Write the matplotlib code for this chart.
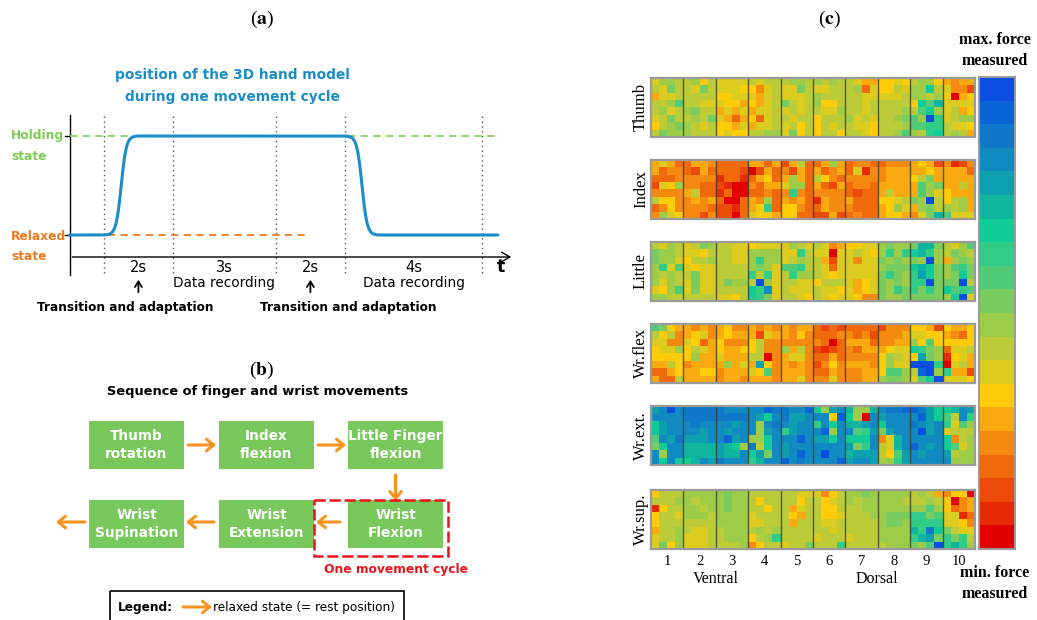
import numpy as np
import matplotlib
matplotlib.use("Agg")
import matplotlib.pyplot as plt
from matplotlib.colors import ListedColormap
from matplotlib.patches import Rectangle, FancyArrowPatch
import matplotlib.transforms as mtransforms

plt.rcParams["mathtext.fontset"] = "stix"

# ---------------- data ----------------
# (a) one movement cycle
phase_durations = [2, 3, 2, 4]               # seconds
phase_labels = ["2s", "3s", "2s", "4s"]
phase_notes = ["", "Data recording", "", "Data recording"]
transition_phases = [0, 2]                   # indices of "Transition and adaptation"
lead_in = 1.0                                # s before first phase
move_time = 1.0                              # s needed to reach the new state
holding_level, relaxed_level = 1.0, 0.0

# (b) movement sequence
movements = ["Thumb\nrotation", "Index\nflexion", "Little Finger\nflexion",
             "Wrist\nFlexion", "Wrist\nExtension", "Wrist\nSupination"]
grid_pos = [(0, 0), (1, 0), (2, 0), (2, 1), (1, 1), (0, 1)]

# (c) force maps, levels 0 (min, red) .. 19 (max, blue), base-20 digits
thumb = [
    "7998 8968 7777 8788 8998 9898 8755 6676 8996 5455",
    "87a8 87a8 7776 6478 77a8 7788 8937 6687 99d8 7442",
    "5778 8888 6677 7578 7778 9888 8877 7778 9989 6056",
    "889b 8877 7665 6578 a878 9668 8878 8888 6dbe 7777",
    "8978 9a88 5757 5778 7878 8779 8878 8889 8bd9 7856",
    "78a8 898a 7535 6378 8788 6888 9787 889a b9jc 7899",
    "689a 9878 6657 5778 7868 6878 8776 8889 bbcc 8776",
    "8a99 9888 6766 8899 7a68 6886 8876 889b 98cd 8985",
]
index = [
    "5753 3554 3333 5535 2583 3595 3443 3444 5652 4124",
    "5344 3253 3332 0253 4253 5345 3714 4555 5565 5553",
    "3334 4444 1331 3563 5953 8643 4444 4555 68a5 5555",
    "2769 4433 2100 4355 7993 5325 3443 5555 5b9a 5585",
    "4444 5833 1300 3343 4c43 4444 3233 5855 5b97 6555",
    "8664 4545 3003 5493 5453 1544 5333 6678 a9j8 6895",
    "3464 4443 2213 56c3 6643 3544 4333 5697 59a8 9895",
    "4976 4424 2203 7665 6633 2252 3433 5665 47ae b777",
]
little = [
    "8798 78a9 8877 6777 7987 8745 6677 9a99 aeea 879b",
    "a998 7768 8877 9999 77c8 7707 7876 9c9c dec9 8a98",
    "a997 6889 8877 9c99 7898 8527 7477 a9a9 a9j9 59a9",
    "9c7b 7677 8888 9a97 bbc8 8737 7777 9aaa deda 9bca",
    "9898 8a77 8888 c8c7 8c99 8767 7777 aca9 cfda 9ada",
    "9798 7a77 8a99 8j97 8877 6888 7567 a9a9 ccja aaj8",
    "769b 7a77 8888 dcg7 8777 8776 7567 a9ca caca dbcb",
    "9988 8888 7768 dca7 8876 8767 7644 a99a aaaa 9dj7",
]
wr_flex = [
    "ba65 5454 5644 5454 5455 3232 3333 2444 6652 6556",
    "8684 5674 5655 5275 5464 3334 4342 4445 7766 5436",
    "7744 7635 6444 6844 4444 4303 5553 4455 96b6 6666",
    "6779 6875 6556 6844 9584 2123 4355 5677 dca9 3778",
    "6666 6955 7555 8804 5774 3353 4444 6987 6fa9 1675",
    "5586 4555 5957 5f64 5454 2464 5554 6977 jjjc 0785",
    "3356 5566 4555 76b4 5554 3354 4455 6bb9 8ij9 c552",
    "5338 5555 4554 5554 5574 4474 4455 9aa9 7bdj 7776",
]
wr_ext = [
    "fgjg hhhh hggg ggih hggi d9fg e99e ghhi ihfd degf",
    "gggg hhhh hhhh gfdg hffg gg6i d90g fggg gifd b8gc",
    "dfgg ghgg ggfg g9gh gfgg cgdg eefg dggg hgfg c7b9",
    "dfgg ggfg gfgg g9fg cfgg gi9g gbcf afgg gjfg 7888",
    "bgfh fffg gifg 99dg ggig ffdg dddg 47eg gggg d489",
    "adgg eeee fed9 h8dg fggg gggg facg 87eg igfg db79",
    "g9gg eeee feeg dfag fgig gjgg efff 86bf gfgg f899",
    "gdgd degf hggg cegg ighg gggi fggf 99cf gggg g999",
]
wr_sup = [
    "6888 9999 9a99 8888 8877 7468 99a9 9999 8985 4660",
    "8889 9899 9a99 8688 8868 8678 9899 9998 8898 6045",
    "1688 9989 9a99 8868 8578 8668 8899 9999 99b9 6345",
    "6887 9998 9999 7888 8658 8667 8889 9aaa ccab 7713",
    "6888 8888 9999 7788 8588 8778 8888 9aa9 cccc 7764",
    "5889 8778 8999 8989 8888 8878 8888 9999 echd a877",
    "7889 7778 8999 689c 8888 7888 7888 9999 cefa cac8",
    "7a69 7778 8889 4688 788a 888c 8888 8999 a9bj cec9",
]
force_maps = [thumb, index, little, wr_flex, wr_ext, wr_sup]
map_names = ["Thumb", "Index", "Little", "Wr.flex", "Wr.ext.", "Wr.sup."]
electrode_groups = [str(i) for i in range(1, 11)]

level_colors = ["#E00000", "#E62A04", "#EB4A08", "#F06A0C", "#F58A10",
                "#F8AA10", "#FFCC0A", "#DCCC20", "#BCCC38", "#9CCC48",
                "#78CC60", "#50CC78", "#30CC88", "#12CC98", "#10B5A0",
                "#0FA0B0", "#108AC0", "#0F78C8", "#0A64D6", "#0A4FE0"]

# ---------------- figure ----------------
W, H = 1037, 620
fig = plt.figure(figsize=(W / 100, H / 100), dpi=100)


def px_axes(x0, y0, x1, y1):
    return fig.add_axes([x0 / W, 1 - y1 / H, (x1 - x0) / W, (y1 - y0) / H])


SANS = "DejaVu Sans"
SERIF = "Liberation Serif"
GREEN_TXT = "#7BCB55"
ORANGE = "#F07A22"
BLUE = "#1B8DC7"
ARROW_OR = "#F7931E"

# panel labels
for lab, x, y in [("a", 262, 19), ("b", 262, 370), ("c", 829, 19)]:
    fig.text(x / W, 1 - y / H, r"($\mathbf{%s}$)" % lab, family=SERIF,
             fontsize=14, ha="center", va="center")

# ---------------- (a) ----------------
ax_a = px_axes(0, 60, 520, 330)
T0, SEC = 104, 34.4      # px of t=0, px per second
V0, LVL = 235, 99        # px of relaxed level, px per level unit


def tx(px):
    return (px - T0) / SEC


def vy(py):
    return (V0 - py) / LVL


ax_a.set_xlim(tx(0), tx(520))
ax_a.set_ylim(vy(330), vy(60))
ax_a.axis("off")

bounds = np.concatenate([[0], np.cumsum(phase_durations)])
t_start = -lead_in

# axes of the sketch
ax_a.plot([t_start, t_start], [vy(275), vy(115)], color="black", lw=1)
for lv in (holding_level, relaxed_level):
    ax_a.plot([tx(65), t_start], [lv, lv], color="black", lw=1)
ax_a.annotate("", xy=(tx(514), vy(257)), xytext=(t_start, vy(257)),
              arrowprops=dict(arrowstyle="->,head_length=0.6,head_width=0.35",
                              color="black", lw=1))
ax_a.text(tx(501), vy(267), "t", family=SANS, fontweight="bold",
          fontsize=12.5, ha="center", va="center")

for b in bounds:
    ax_a.plot([b, b], [vy(273), vy(115)], color="#555555", lw=1,
              ls=(0, (1, 2.5)))

ax_a.plot([t_start, tx(500)], [holding_level] * 2, color="#86CF5E", lw=1.3,
          ls=(0, (4, 3)))
ax_a.plot([t_start, tx(308)], [relaxed_level] * 2, color=ORANGE, lw=1.3,
          ls=(0, (4, 3)))

# model position curve: smooth moves at the start of each transition phase
t = np.linspace(t_start, tx(498), 800)
u_up = np.clip((t - bounds[transition_phases[0]]) / move_time, 0, 1)
u_dn = np.clip((t - bounds[transition_phases[1] + 1]) / move_time, 0, 1)


def ease(u):
    k = 0.15
    return (np.tanh((u - 0.5) / k) + np.tanh(0.5 / k)) / (2 * np.tanh(0.5 / k))


pos = relaxed_level + (holding_level - relaxed_level) * (ease(u_up) - ease(u_dn))
ax_a.plot(t, pos, color=BLUE, lw=2.2, solid_capstyle="round")

ax_a.text(tx(232), vy(75), "position of the 3D hand model", color=BLUE,
          family=SANS, fontweight="bold", fontsize=9.9, ha="center",
          va="center")
ax_a.text(tx(232), vy(97), "during one movement cycle", color=BLUE,
          family=SANS, fontweight="bold", fontsize=9.9, ha="center",
          va="center")

for txt, py in [("Holding", 136), ("state", 157)]:
    ax_a.text(tx(11), vy(py), txt, color=GREEN_TXT, family=SANS,
              fontweight="bold", fontsize=8.8, ha="left", va="center")
for txt, py in [("Relaxed", 236), ("state", 256)]:
    ax_a.text(tx(11), vy(py), txt, color=ORANGE, family=SANS,
              fontweight="bold", fontsize=8.8, ha="left", va="center")

mids = (bounds[:-1] + bounds[1:]) / 2
for m, lab, note in zip(mids, phase_labels, phase_notes):
    ax_a.text(m, vy(267), lab, family=SANS, fontsize=10.5, ha="center",
              va="center")
    if note:
        ax_a.text(m, vy(283), note, family=SANS, fontsize=9.8,
                  ha="center", va="center")
for i, k in enumerate(transition_phases):
    m = mids[k]
    ax_a.annotate("", xy=(m, vy(277)), xytext=(m, vy(295)),
                  arrowprops=dict(arrowstyle="->,head_length=0.4,head_width=0.25",
                                  color="black", lw=1.3))
    cx = [125.5, 348][i]
    ax_a.text(tx(cx), vy(308), "Transition and adaptation", family=SANS,
              fontweight="bold", fontsize=8.7, ha="center", va="center")

# ---------------- (b) ----------------
ax_b = px_axes(0, 340, 520, 620)
ax_b.set_xlim(0, 520)
ax_b.set_ylim(620, 340)
ax_b.axis("off")

ax_b.text(258, 391, "Sequence of finger and wrist movements", family=SANS,
          fontweight="bold", fontsize=9.4, ha="center", va="center")

col_x = [89, 219, 348]
row_y = [421, 500]
bw, bh = 95, 48
for name, (c, r) in zip(movements, grid_pos):
    x0, y0 = col_x[c], row_y[r]
    ax_b.add_patch(Rectangle((x0, y0), bw, bh, facecolor="#78C85C",
                             edgecolor="none"))
    ax_b.text(x0 + bw / 2, y0 + bh / 2, name, color="white", family=SANS,
              fontweight="bold", fontsize=9.8, ha="center", va="center",
              linespacing=1.45)


def orange_arrow(p0, p1):
    ax_b.add_patch(FancyArrowPatch(p0, p1,
                                   arrowstyle="->,head_length=3.2,head_width=2.6",
                                   color=ARROW_OR, lw=2.2, mutation_scale=1.6,
                                   shrinkA=0, shrinkB=0))


yc0 = row_y[0] + bh / 2
yc1 = row_y[1] + bh / 2 - 2
orange_arrow((188, yc0), (216, yc0))
orange_arrow((318, yc0), (346, yc0))
xv = col_x[2] + bw / 2
orange_arrow((xv, 475), (xv, 501))
orange_arrow((340, yc1), (316, yc1))
orange_arrow((214, yc1), (186, yc1))
orange_arrow((85, yc1), (56, yc1))

ax_b.add_patch(Rectangle((314, 500), 134, 56, facecolor="none",
                         edgecolor="#E8141B", lw=1.8, ls=(0, (4.5, 1.5))))
ax_b.text(396, 569, "One movement cycle", color="#E8141B", family=SANS,
          fontweight="bold", fontsize=8.8, ha="center", va="center")

ax_b.add_patch(Rectangle((110, 591), 294, 40, facecolor="none",
                         edgecolor="black", lw=1.2, clip_on=False))
ax_b.text(118, 608, "Legend:", family=SANS, fontweight="bold", fontsize=8.7,
          ha="left", va="center")
orange_arrow((183, 607), (212, 607))
ax_b.text(213, 607, "relaxed state (= rest position)", family=SANS,
          fontsize=8.7, ha="left", va="center")

# ---------------- (c) ----------------
cmap = ListedColormap(level_colors)
n_lv = len(level_colors)
panel_tops = [78, 160, 242, 324, 406, 490]
ph = 58.7
X0, X1 = 651, 975
for k, (rows, name) in enumerate(zip(force_maps, map_names)):
    arr = np.array([[int(ch, 20) for ch in r.replace(" ", "")] for r in rows])
    top = panel_tops[k]
    ax = px_axes(X0, top, X1, top + ph)
    ax.imshow(arr, cmap=cmap, vmin=-0.5, vmax=n_lv - 0.5, aspect="auto",
              interpolation="nearest")
    ncols = arr.shape[1]
    per = ncols // len(electrode_groups)
    for j in range(1, len(electrode_groups)):
        ax.axvline(j * per - 0.5, color="#3a3a2a", lw=1.0, alpha=0.8)
    ax.set_xticks([])
    ax.set_yticks([])
    for s in ax.spines.values():
        s.set_color("#9a9a9a")
        s.set_linewidth(1.6)
    ax.text(-10 / (X1 - X0), 0.5, name, transform=ax.transAxes, rotation=90,
            family=SERIF, fontsize=12, ha="center", va="center")
    if k == len(force_maps) - 1:
        trans = mtransforms.blended_transform_factory(ax.transData, ax.transAxes)
        for j, g in enumerate(electrode_groups):
            ax.text(j * per + per / 2 - 0.5, -(562 - 549) / ph, g,
                    transform=trans, family=SERIF, fontsize=10.5,
                    ha="center", va="center")
        ax.text((715.7 - X0) / 8.1 - 0.5, -(579 - 549) / ph, "Ventral",
                transform=trans, family=SERIF, fontsize=11.5, ha="center",
                va="center")
        ax.text((877 - X0) / 8.1 - 0.5, -(579 - 549) / ph, "Dorsal",
                transform=trans, family=SERIF, fontsize=11.5, ha="center",
                va="center")

cax = px_axes(979, 77, 1015, 549)
cax.imshow(np.arange(n_lv)[::-1].reshape(-1, 1), cmap=cmap, vmin=-0.5,
           vmax=n_lv - 0.5, aspect="auto", interpolation="nearest")
cax.set_xticks([])
cax.set_yticks([])
for s in cax.spines.values():
    s.set_color("#9a9a9a")
    s.set_linewidth(1.4)

for txt, py in [("max. force", 40), ("measured", 61),
                ("min. force", 573), ("measured", 594)]:
    fig.text(995 / W, 1 - py / H, txt, family=SERIF, fontweight="bold",
             fontsize=11.5, ha="center", va="center")

fig.savefig("out.png", dpi=100)
